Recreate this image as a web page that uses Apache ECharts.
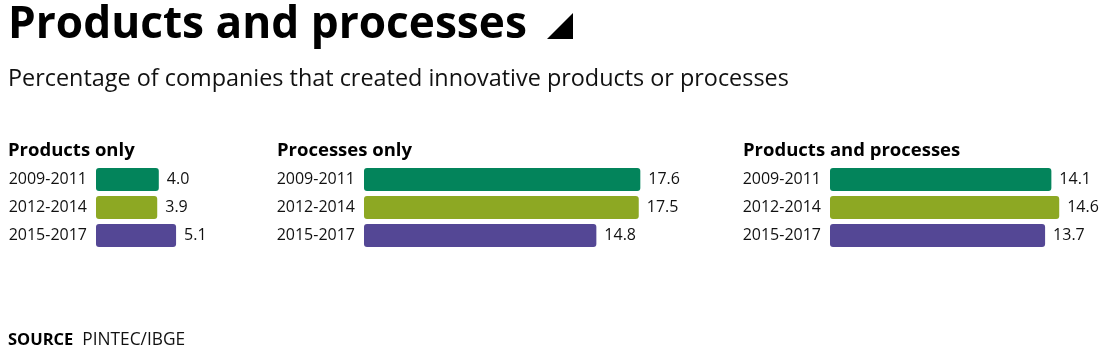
<!DOCTYPE html>
<html><head><meta charset="utf-8">
<script src="https://cdn.jsdelivr.net/npm/echarts@6/dist/echarts.min.js"></script>
<style>html,body{margin:0;padding:0;background:#fff}#c{width:1117px;height:350px}</style>
</head><body><div id="c"></div>
<script>
const periods = ['2009-2011', '2012-2014', '2015-2017'];
const panelTitles = ['Products only', 'Processes only', 'Products and processes'];
const productsOnly = [4.0, 3.9, 5.1];
const processesOnly = [17.6, 17.5, 14.8];
const productsAndProcesses = [14.1, 14.6, 13.7];
const panelValues = [productsOnly, processesOnly, productsAndProcesses];
const periodColors = ['#03845B', '#8DA823', '#544795'];

const FONT = 'Open Sans';
const barLeft = [96, 364, 830];
const labelLeft = [8, 277, 743];
const AXIS_MAX = 18;
const PX_PER_UNIT = 15.7;

const grids = [], xAxes = [], yAxes = [], series = [];
panelValues.forEach((vals, i) => {
  grids.push({ left: barLeft[i], top: 165.5, width: AXIS_MAX * PX_PER_UNIT, height: 84 });
  xAxes.push({ gridIndex: i, type: 'value', min: 0, max: AXIS_MAX, show: false });
  yAxes.push({
    gridIndex: i, type: 'category', data: periods, inverse: true,
    axisLine: { show: false }, axisTick: { show: false },
    axisLabel: { margin: 9, fontSize: 16, color: '#111', fontFamily: FONT }
  });
  series.push({
    type: 'bar', xAxisIndex: i, yAxisIndex: i, barWidth: 23,
    data: vals.map((v, k) => ({ value: v, itemStyle: { color: periodColors[k], borderRadius: 3 } })),
    label: {
      show: true, position: 'right', distance: 8, fontSize: 16, color: '#111', fontFamily: FONT,
      formatter: p => p.value.toFixed(1)
    },
    silent: true
  });
});

const titles = [
  { text: 'Products and processes', left: 8, top: 3.5, padding: 0,
    textStyle: { fontSize: 44.2, fontWeight: 'bold', color: '#000', fontFamily: FONT } },
  { text: 'Percentage of companies that created innovative products or processes', left: 8, top: 68.2, padding: 0,
    textStyle: { fontSize: 23.4, fontWeight: 'normal', color: '#111', fontFamily: FONT } }
];
panelTitles.forEach((t, i) => {
  titles.push({ text: t, left: labelLeft[i], top: 141, padding: 0,
    textStyle: { fontSize: 18.5, fontWeight: 'bold', color: '#000', fontFamily: FONT } });
});
titles.push({ text: '{b|SOURCE}{r|  PINTEC/IBGE}', left: 8, top: 332, padding: 0,
  textStyle: { rich: {
    b: { fontSize: 16.5, fontWeight: 'bold', color: '#000', fontFamily: FONT },
    r: { fontSize: 17.3, fontWeight: 'normal', color: '#111', fontFamily: FONT }
  } } });

const chart = echarts.init(document.getElementById('c'), null, { renderer: 'canvas' });
chart.setOption({
  animation: false,
  backgroundColor: '#fff',
  title: titles,
  grid: grids, xAxis: xAxes, yAxis: yAxes, series: series,
  graphic: [{ type: 'polygon', shape: { points: [[547, 39], [573, 39], [573, 13]] }, style: { fill: '#000' } }]
});
</script></body></html>
